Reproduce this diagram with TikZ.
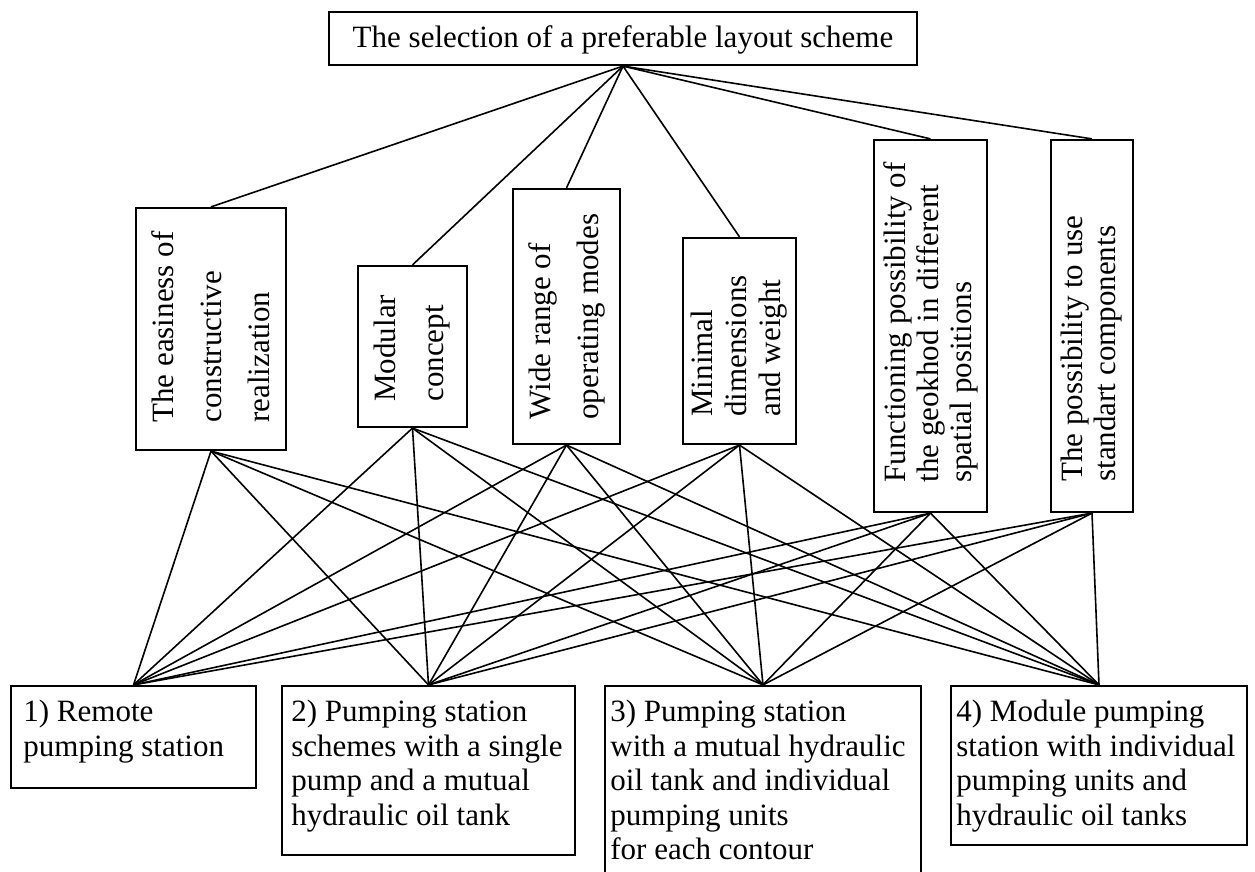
\documentclass[tikz,border=0pt]{standalone}
\usepackage{fontspec}
\setmainfont{Liberation Serif}
\usetikzlibrary{fit}
\begin{document}
\begin{tikzpicture}[x=0.5pt,y=-0.5pt,
  box/.style={draw, line width=1.1pt, inner sep=0pt},
  lbl/.style={inner sep=0pt, align=left, anchor=north west, font=\fontsize{15.5}{17.2}\selectfont},
  vlblA/.style={inner sep=0pt, align=left, rotate=90, anchor=west, font=\fontsize{15.5}{24}\selectfont},
  vlblB/.style={inner sep=0pt, align=left, rotate=90, anchor=west, font=\fontsize{15.5}{16.5}\selectfont},
  link/.style={line width=0.8pt}]
\useasboundingbox (0,0) rectangle (1255,872);
% top box
\node[box, fit={(329,12)(917,65)}] (top) {};
\node[inner sep=0pt, anchor=base, font=\fontsize{15.5}{18}\selectfont] (toptxt) at (623,48) {The selection of a preferable layout scheme};
% middle boxes
\node[box, fit={(136,208)(286,450)}] (m1) {};
\node[vlblA] (m1t) at (211,423) {The easiness of\\constructive\\realization};
\node[box, fit={(358,266)(467,427)}] (m2) {};
\node[vlblA] (m2t) at (412.5,402) {Modular\\concept};
\node[box, fit={(513,189)(620,444)}] (m3) {};
\node[vlblA] (m3t) at (566.5,420) {Wide range of\\operating modes};
\node[box, fit={(683,238)(796,444)}] (m4) {};
\node[vlblB, font=\fontsize{15.5}{17}\selectfont] (m4t) at (739.5,417) {Minimal\\dimensions\\and weight};
\node[box, fit={(874,140)(987,512)}] (m5) {};
\node[vlblB] (m5t) at (930.5,483) {Functioning possibility of\\the geokhod in different\\spatial positions};
\node[box, fit={(1051,140)(1133,512)}] (m6) {};
\node[vlblB] (m6t) at (1092,482) {The possibility to use\\standart components};
% bottom boxes
\node[box, fit={(11,686)(256,788)}] (b1) {};
\node[lbl] (b1t) at (23,700) {1) Remote\\pumping station};
\node[box, fit={(282,686)(575,855)}] (b2) {};
\node[lbl] (b2t) at (291,700) {2) Pumping station\\schemes with a single\\pump and a mutual\\hydraulic oil tank};
\node[box, fit={(605,686)(921,900)}] (b3) {};
\node[lbl] (b3t) at (610,700) {3) Pumping station\\with a mutual hydraulic\\oil tank and individual\\pumping units\\for each contour};
\node[box, fit={(951,686)(1247,845)}] (b4) {};
\node[lbl] (b4t) at (956,700) {4) Module pumping\\station with individual\\pumping units and\\hydraulic oil tanks};
% connectors
\foreach \m in {m1,m2,m3,m4,m5,m6}{
  \draw[link] (top.south) -- (\m.north);
  \foreach \b in {b1,b2,b3,b4}{
    \draw[link] (\m.south) -- (\b.north);
  }
}
\end{tikzpicture}
\end{document}
